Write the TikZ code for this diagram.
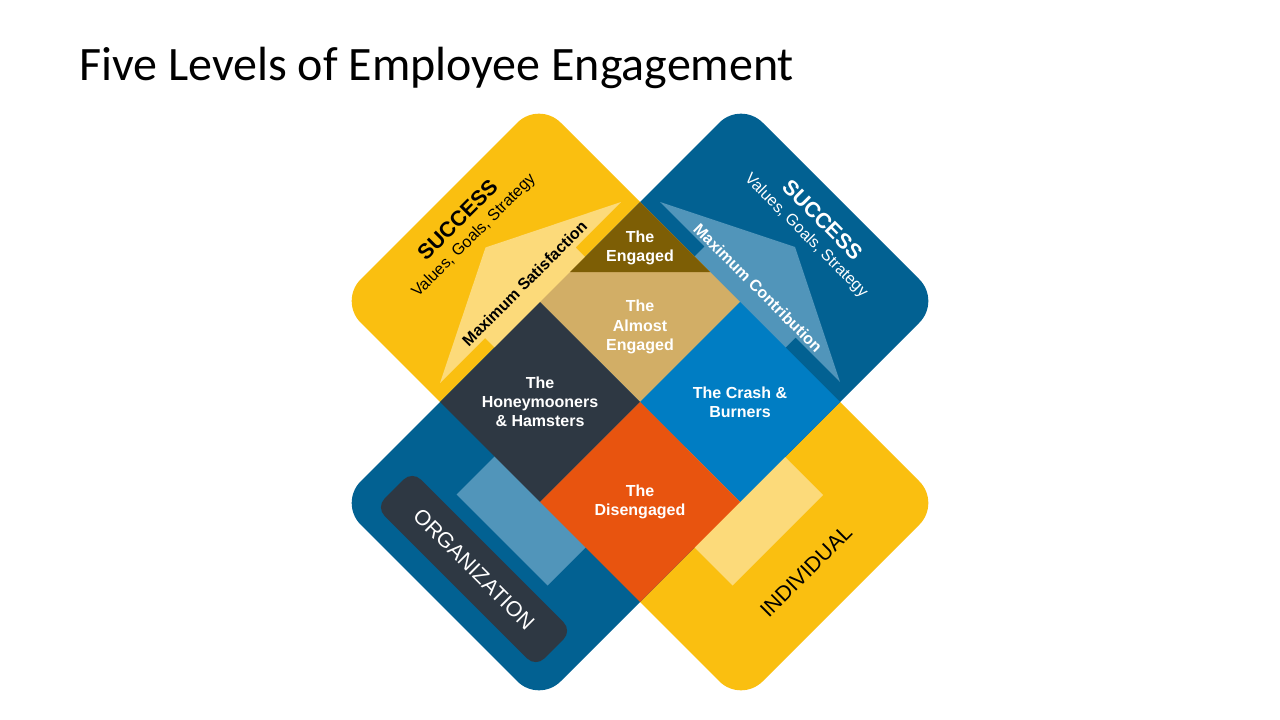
\documentclass[tikz,border=0pt]{standalone}
\usepackage{fontspec}
\setmainfont{Liberation Sans}
\newfontfamily\titlefont{Carlito}
\definecolor{bandyellow}{RGB}{250,191,16}
\definecolor{bandblue}{RGB}{2,97,146}
\definecolor{lightyellow}{RGB}{252,218,122}
\definecolor{lightblue}{RGB}{81,149,186}
\definecolor{navy}{RGB}{46,56,67}
\definecolor{brightblue}{RGB}{0,125,195}
\definecolor{orangesq}{RGB}{232,84,15}
\definecolor{tansq}{RGB}{210,174,102}
\definecolor{olivesq}{RGB}{125,94,5}
\tikzset{
  celltext/.style={text=white, align=center, font=\fontsize{12}{14.4}\selectfont\bfseries},
  headtext/.style={font=\fontsize{16}{19}\selectfont\bfseries},
  subtext/.style={font=\fontsize{12}{14}\selectfont},
  arrowtext/.style={font=\fontsize{12}{14}\selectfont\bfseries},
  sidetext/.style={font=\fontsize{16}{19}\selectfont},
}
\begin{document}
\begin{tikzpicture}[x=0.75pt,y=-0.75pt]
\useasboundingbox (0,0) rectangle (1280,720);
\fill[white] (0,0) rectangle (1280,720);
% title
\node[anchor=base west, inner sep=0pt, font=\titlefont\fontsize{36}{43}\selectfont] (title) at (79,81) {Five Levels of Employee Engagement};
% bands
\fill[bandyellow, rounded corners=23pt] (539,101) -- (941,503) -- (741,703) -- (339,301) -- cycle;
\fill[bandblue, rounded corners=23pt] (741,101) -- (941,301) -- (539,703) -- (339,503) -- cycle;
% arrows
\fill[lightyellow] (485.5,247.5) -- (621,202) -- (575.5,247.5) -- (823,495) -- (732.5,585.5) -- (485,338) -- (440,383) -- cycle;
\fill[lightblue] (795,247) -- (840,382) -- (795.5,337.5) -- (547.5,585.5) -- (456.5,494.5) -- (704.5,246.5) -- (660,202) -- cycle;
% central squares
\fill[tansq] (640,202) -- (740,302) -- (640,402) -- (540,302) -- cycle;
\fill[olivesq] (640,202) -- (710,272) -- (570,272) -- cycle;
\fill[navy] (540,302) -- (640,402) -- (540,502) -- (440,402) -- cycle;
\fill[brightblue] (740,302) -- (840,402) -- (740,502) -- (640,402) -- cycle;
\fill[orangesq] (640,402) -- (740,502) -- (640,602) -- (540,502) -- cycle;
% cell labels
\node[celltext] (engaged) at (640,247.5) {The\\Engaged};
\node[celltext] (almost) at (640,327) {The\\Almost\\Engaged};
\node[celltext] (honey) at (540,402) {The\\Honeymooners\\\& Hamsters};
\node[celltext] (crash) at (740,402.5) {The Crash \&\\Burners};
\node[celltext] (diseng) at (640,501.5) {The\\Disengaged};
% success labels
\node[headtext, rotate=45] (succL) at (457.5,219.5) {SUCCESS};
\node[subtext, rotate=45] (valL) at (474,236) {Values, Goals, Strategy};
\node[headtext, rotate=-45, text=white] (succR) at (822.5,219.5) {SUCCESS};
\node[subtext, rotate=-45, text=white] (valR) at (806,236) {Values, Goals, Strategy};
% arrow labels
\node[arrowtext, rotate=45] (maxsat) at (524.5,283.5) {Maximum Satisfaction};
\node[arrowtext, rotate=-45, text=white] (maxcon) at (758,288) {Maximum Contribution};
% organization pill
\node[rotate=-45, fill=navy, rounded corners=9pt, minimum width=169.5pt, minimum height=38.5pt, sidetext, text=white] (org) at (474,569) {ORGANIZATION};
\node[sidetext, rotate=45] (indiv) at (806,571) {INDIVIDUAL};
\end{tikzpicture}
\end{document}
